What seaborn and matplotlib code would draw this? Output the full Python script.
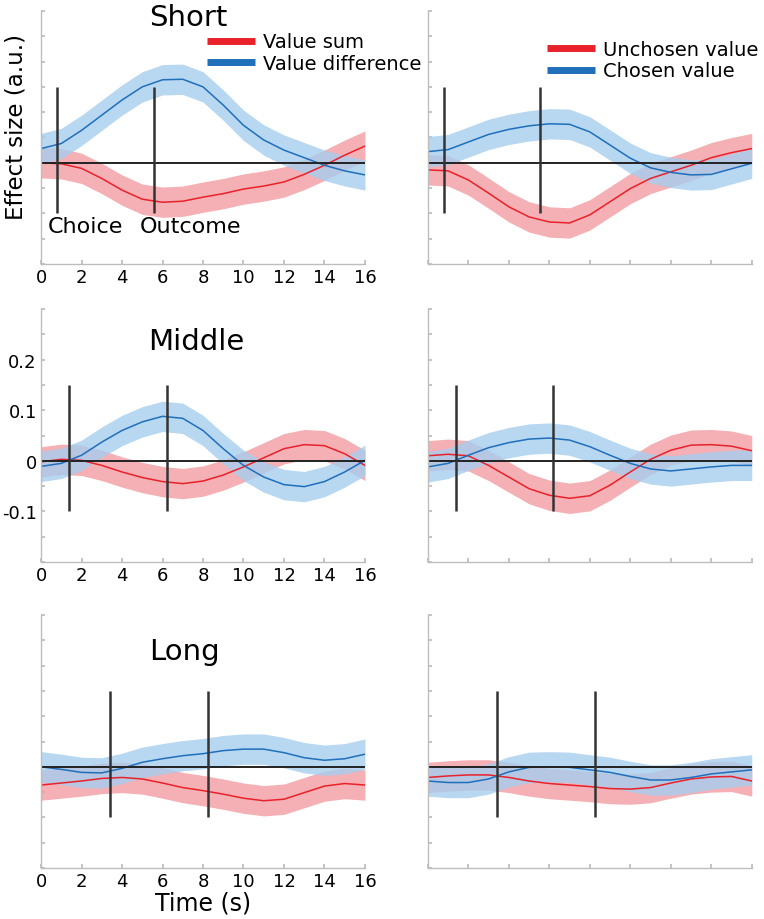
import numpy as np
import pandas as pd
import matplotlib.pyplot as plt
import seaborn as sns

sns.set_theme(style='white')
plt.rcParams['font.family'] = ['DejaVu Sans']
plt.rcParams['axes.unicode_minus'] = False
plt.rcParams['text.color'] = 'black'
plt.rcParams['axes.labelcolor'] = 'black'
plt.rcParams['xtick.labelcolor'] = 'black'
plt.rcParams['ytick.labelcolor'] = 'black'

# Time axis (s)
time_s = list(range(17))

# Short ISI - left column (value sum / value difference)
short_sum = [0.0, -0.002, -0.011, -0.031, -0.054, -0.072, -0.078, -0.076, -0.068,
             -0.061, -0.052, -0.046, -0.038, -0.023, -0.005, 0.015, 0.033]
short_diff = [0.028, 0.038, 0.064, 0.094, 0.124, 0.150, 0.164, 0.165, 0.150,
              0.114, 0.074, 0.045, 0.025, 0.010, -0.005, -0.016, -0.024]
# Short ISI - right column (unchosen / chosen value)
short_unch = [-0.014, -0.016, -0.034, -0.060, -0.087, -0.107, -0.117, -0.119, -0.103,
              -0.077, -0.051, -0.031, -0.018, -0.005, 0.010, 0.020, 0.028]
short_chos = [0.022, 0.026, 0.041, 0.056, 0.066, 0.073, 0.077, 0.076, 0.061,
              0.035, 0.009, -0.010, -0.019, -0.024, -0.023, -0.012, -0.001]

# Middle ISI
mid_sum = [-0.002, 0.003, 0.001, -0.009, -0.022, -0.033, -0.041, -0.045, -0.040,
           -0.028, -0.012, 0.006, 0.024, 0.032, 0.030, 0.014, -0.009]
mid_diff = [-0.011, -0.005, 0.011, 0.037, 0.060, 0.077, 0.088, 0.084, 0.060,
            0.024, -0.009, -0.032, -0.047, -0.051, -0.041, -0.022, 0.001]
mid_unch = [0.010, 0.013, 0.010, -0.009, -0.032, -0.055, -0.068, -0.074, -0.069,
            -0.048, -0.022, 0.003, 0.021, 0.031, 0.032, 0.029, 0.020]
mid_chos = [-0.012, -0.005, 0.011, 0.026, 0.036, 0.043, 0.045, 0.041, 0.028,
            0.011, -0.005, -0.016, -0.020, -0.016, -0.012, -0.009, -0.009]

# Long ISI
long_sum = [-0.036, -0.032, -0.028, -0.023, -0.021, -0.024, -0.032, -0.041, -0.047,
            -0.054, -0.062, -0.067, -0.064, -0.051, -0.038, -0.033, -0.036]
long_diff = [0.0, -0.005, -0.011, -0.012, -0.003, 0.009, 0.016, 0.022, 0.026,
             0.032, 0.035, 0.035, 0.028, 0.018, 0.013, 0.016, 0.025]
long_unch = [-0.021, -0.018, -0.016, -0.016, -0.021, -0.028, -0.033, -0.036, -0.039,
             -0.043, -0.044, -0.041, -0.032, -0.024, -0.020, -0.019, -0.028]
long_chos = [-0.028, -0.031, -0.031, -0.024, -0.010, -0.001, 0.0, -0.001, -0.006,
             -0.011, -0.019, -0.026, -0.026, -0.021, -0.014, -0.010, -0.006]

sem = 0.03

# Choice / outcome onsets (s) per row
choice_on = [0.78, 1.4, 3.4]
outcome_on = [5.56, 6.2, 8.25]
row_names = ['Short', 'Middle', 'Long']
left_labels = ['Value sum', 'Value difference']
right_labels = ['Unchosen value', 'Chosen value']

red = '#e8212a'
blue = '#1f6fbb'
red_fill = '#f29da2'
blue_fill = '#a6cdee'
spine_c = '#bdbdbd'

left_data = [(short_sum, short_diff), (mid_sum, mid_diff), (long_sum, long_diff)]
right_data = [(short_unch, short_chos), (mid_unch, mid_chos), (long_unch, long_chos)]

fig = plt.figure(figsize=(7.64, 9.20), dpi=100)
lefts = [0.0537, 0.560]
bottoms = [0.712, 0.388, 0.0554]
w, h = 0.424, 0.275

for r in range(3):
    for c in range(2):
        ax = fig.add_axes([lefts[c], bottoms[r], w, h])
        series = left_data[r] if c == 0 else right_data[r]
        labels = left_labels if c == 0 else right_labels
        for vals, col, fcol, lab in zip(series, [red, blue], [red_fill, blue_fill], labels):
            df = pd.DataFrame({'t': time_s, 'v': vals})
            v = np.array(vals)
            ax.fill_between(df['t'], v - sem, v + sem, color=fcol, alpha=0.8, lw=0)
            sns.lineplot(data=df, x='t', y='v', ax=ax, color=col, lw=1.1, label=lab,
                         legend=False)
        ax.axhline(0, xmin=0, xmax=1, color='#222222', lw=1.4)
        ax.vlines([choice_on[r], outcome_on[r]], -0.1, 0.15, color='#333333', lw=1.8)

        ax.set_xlim(0, 16)
        ax.set_ylim(-0.2, 0.3)
        ax.set_xticks(range(0, 17, 2))
        yt = np.round(np.arange(-0.2, 0.31, 0.05), 2)
        ax.set_yticks(yt)
        ax.set_xlabel('')
        ax.set_ylabel('')
        for s in ['top', 'right']:
            ax.spines[s].set_visible(False)
        for s in ['left', 'bottom']:
            ax.spines[s].set_color(spine_c)
            ax.spines[s].set_linewidth(1.0)
        ax.tick_params(direction='in', length=3, color=spine_c, labelsize=13,
                       labelcolor='black', left=True, bottom=True, pad=3)

        if c == 0 and r == 1:
            ax.set_yticklabels(['0.2' if abs(t - 0.2) < 1e-6 else '0.1' if abs(t - 0.1) < 1e-6
                                else '0' if abs(t) < 1e-6 else '-0.1' if abs(t + 0.1) < 1e-6
                                else '' for t in yt])
        else:
            ax.set_yticklabels([])
        if c == 1:
            ax.set_xticklabels([])

        if c == 0:
            tpos = [(0.454, 0.944), (0.48, 0.842), (0.444, 0.826)][r]
            ax.text(tpos[0], tpos[1], row_names[r], transform=ax.transAxes,
                    ha='center', va='baseline', fontsize=21, color='black')

        if r == 0:
            anchor = (0.512, 0.915) if c == 0 else (0.368, 0.885)
            leg = ax.legend(loc='upper left', bbox_to_anchor=anchor, frameon=False,
                            fontsize=14, handlelength=2.47, handletextpad=0.41,
                            borderpad=0, borderaxespad=0, labelspacing=0.12)
            for line in leg.get_lines():
                line.set_linewidth(5)
                line.set_solid_capstyle('butt')
            for t in leg.get_texts():
                t.set_color('black')
            if c == 0:
                ax.text(0.33, -0.1375, 'Choice', fontsize=16, va='baseline', ha='left',
                        color='black')
                ax.text(4.89, -0.1375, 'Outcome', fontsize=16, va='baseline', ha='left',
                        color='black')
                ax.set_ylabel('Effect size (a.u.)', fontsize=16.5, color='black')
                ax.yaxis.set_label_coords(-0.043, 0.544)

        if r == 2 and c == 0:
            ax.set_xlabel('Time (s)', fontsize=17, color='black')
            ax.xaxis.set_label_coords(0.5, -0.09)

plt.savefig('out.png', dpi=100)
